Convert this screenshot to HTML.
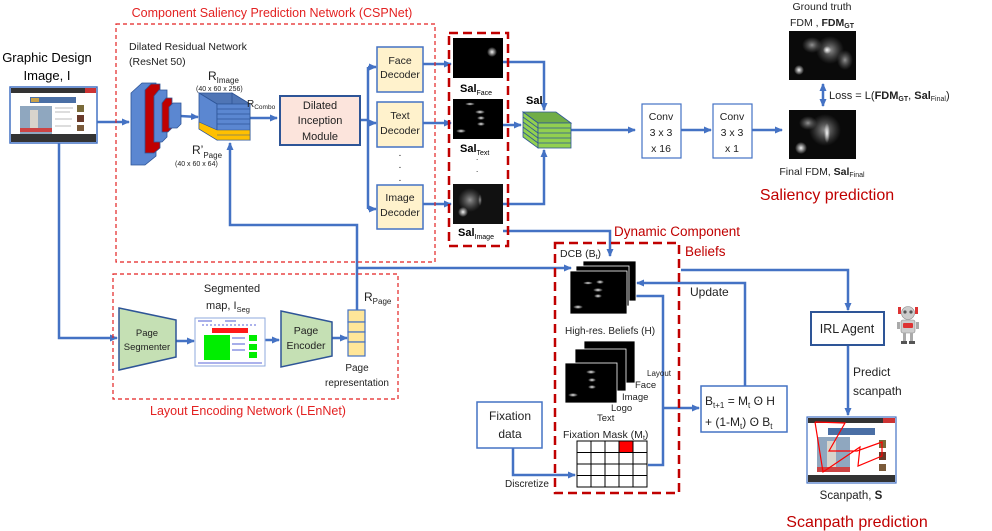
<!DOCTYPE html>
<html><head><meta charset="utf-8"><style>
html,body{margin:0;padding:0;background:#fff;}
svg{display:block;font-family:"Liberation Sans",sans-serif;}
</style></head><body>
<svg width="992" height="531" viewBox="0 0 992 531" xmlns="http://www.w3.org/2000/svg">
<defs>
<marker id="ar" markerWidth="8" markerHeight="8" refX="7" refY="4" orient="auto" markerUnits="userSpaceOnUse"><path d="M0,0.5 L8,4 L0,7.5 Z" fill="#4472c4"/></marker>
<marker id="ars" markerWidth="8" markerHeight="8" refX="1" refY="4" orient="auto" markerUnits="userSpaceOnUse"><path d="M8,0.5 L0,4 L8,7.5 Z" fill="#4472c4"/></marker>
<radialGradient id="blob"><stop offset="0" stop-color="#fff" stop-opacity="0.95"/><stop offset="1" stop-color="#fff" stop-opacity="0"/></radialGradient>
<radialGradient id="blob2"><stop offset="0" stop-color="#ccc" stop-opacity="0.7"/><stop offset="1" stop-color="#888" stop-opacity="0"/></radialGradient>
</defs>
<g fill="none" stroke="#4472c4" stroke-width="2.5">
<!-- connectors -->
<line x1="97" y1="122" x2="129" y2="122" marker-end="url(#ar)"/>
<line x1="180" y1="116" x2="198" y2="117" marker-end="url(#ar)"/>
<line x1="250" y1="118" x2="277" y2="118" marker-end="url(#ar)"/>
<polyline points="360,120 368,120"/>
<polyline points="368,67 368,209"/>
<line x1="368" y1="67" x2="376" y2="67" marker-end="url(#ar)"/>
<line x1="368" y1="123" x2="376" y2="123" marker-end="url(#ar)"/>
<line x1="368" y1="209" x2="376" y2="209" marker-end="url(#ar)"/>
<line x1="423" y1="64" x2="451" y2="64" marker-end="url(#ar)"/>
<line x1="423" y1="123" x2="451" y2="123" marker-end="url(#ar)"/>
<line x1="423" y1="204" x2="451" y2="204" marker-end="url(#ar)"/>
<polyline points="503,62 544,62 544,110" marker-end="url(#ar)"/>
<line x1="503" y1="125" x2="521" y2="125" marker-end="url(#ar)"/>
<polyline points="503,204 544,204 544,150" marker-end="url(#ar)"/>
<line x1="571" y1="130" x2="635" y2="130" marker-end="url(#ar)"/>
<line x1="681" y1="130" x2="711" y2="130" marker-end="url(#ar)"/>
<line x1="752" y1="130" x2="782" y2="130" marker-end="url(#ar)"/>
<line x1="823" y1="84" x2="823" y2="106" marker-end="url(#ar)" marker-start="url(#ars)"/>
<polyline points="230,143 230,225 357,225 357,310" marker-start="url(#ars)"/>
<polyline points="357,268 571,268" marker-end="url(#ar)"/>
<polyline points="503,231 610,231 610,256" marker-end="url(#ar)"/>
<polyline points="59,143 59,338 117,338" marker-end="url(#ar)"/>
<line x1="176" y1="341" x2="194" y2="341" marker-end="url(#ar)"/>
<line x1="265" y1="340" x2="279" y2="340" marker-end="url(#ar)"/>
<line x1="332" y1="338" x2="347" y2="338" marker-end="url(#ar)"/>
<polyline points="745,386 745,283 637,283" marker-end="url(#ar)"/>
<polyline points="636,296 663,296 663,465 648,465"/>
<line x1="663" y1="408" x2="699" y2="408" marker-end="url(#ar)"/>
<polyline points="681,270 848,270 848,310" marker-end="url(#ar)"/>
<line x1="848" y1="345" x2="848" y2="415" marker-end="url(#ar)"/>
<polyline points="513,448 513,475 575,475" marker-end="url(#ar)"/>
</g>
<!-- dashed boxes -->
<rect x="116" y="24" width="319" height="238" fill="none" stroke="#e32222" stroke-width="1.2" stroke-dasharray="4,3"/>
<rect x="113" y="274" width="285" height="125" fill="none" stroke="#e32222" stroke-width="1.2" stroke-dasharray="4,3"/>
<rect x="449" y="33" width="59" height="213" fill="none" stroke="#c00000" stroke-width="2.5" stroke-dasharray="9,5"/>
<rect x="555" y="243" width="124" height="250" fill="none" stroke="#c00000" stroke-width="2.5" stroke-dasharray="9,5"/>
<!-- titles -->
<g font-size="12.5" fill="#e32222" text-anchor="middle">
<text x="272" y="17">Component Saliency Prediction Network (CSPNet)</text>
<text x="248" y="415">Layout Encoding Network (LEnNet)</text>
</g>
<g font-size="13.5" fill="#c00000">
<text x="614" y="236">Dynamic Component</text>
<text x="685" y="256">Beliefs</text>
<text x="827" y="200" text-anchor="middle" font-size="16">Saliency prediction</text>
<text x="857" y="527" text-anchor="middle" font-size="16">Scanpath prediction</text>
</g>
<!-- input thumbnail -->
<g>
<rect x="10" y="87" width="87" height="56" fill="#fff" stroke="#4472c4" stroke-width="1.5"/>
<rect x="11" y="88" width="85" height="5" fill="#333"/>
<rect x="85" y="88" width="11" height="5" fill="#c33"/>
<rect x="30" y="97" width="46" height="6" fill="#4a6fa5"/>
<rect x="31" y="98" width="8" height="4" fill="#c9a24a"/>
<rect x="20" y="106" width="32" height="28" fill="#8fa7bf"/>
<rect x="30" y="110" width="8" height="22" fill="#d8d4cc"/>
<rect x="20" y="128" width="32" height="4" fill="#c44"/>
<rect x="77" y="105" width="7" height="7" fill="#7a6b3a"/>
<rect x="77" y="115" width="7" height="7" fill="#6a3a2a"/>
<rect x="77" y="125" width="7" height="6" fill="#7a5a3a"/>
<g stroke="#bbb" stroke-width="1"><line x1="55" y1="108" x2="73" y2="108"/><line x1="55" y1="112" x2="70" y2="112"/><line x1="55" y1="119" x2="72" y2="119"/><line x1="55" y1="126" x2="71" y2="126"/></g>
<rect x="11" y="134" width="85" height="8" fill="#333"/>
</g>
<g font-size="13" fill="#000" text-anchor="middle">
<text x="47" y="62">Graphic Design</text>
<text x="47" y="80">Image, I</text>
</g>
<!-- ResNet -->
<g stroke="#2e5597" stroke-width="0.8">
<polygon points="131,93 142,83 156,83 156,156 145,165 131,165" fill="#5b87d1"/>
<polygon points="145,90 151,84 160,84 160,148 154,153 145,153" fill="#c00000"/>
<polygon points="154,96 159,90 167,90 167,137 162,142 154,142" fill="#5b87d1"/>
<polygon points="162,103 166,98 172,98 172,128 168,132 162,132" fill="#c00000"/>
<polygon points="169,107 173,103 181,103 181,124 177,128 169,128" fill="#5b87d1"/>
</g>
<g font-size="10.5" fill="#222"><text x="129" y="50">Dilated Residual Network</text><text x="129" y="65">(ResNet 50)</text></g>
<!-- feature cube -->
<g stroke="#2e5597" stroke-width="0.8">
<polygon points="199,93 232,93 250,104 217,104" fill="#4f75b5"/>
<polygon points="232,93 250,104 250,140 232,129" fill="#4f75b5"/>
<rect x="199" y="93" width="51" height="0" />
<polygon points="199,93 217,104 217,140 199,129" fill="#5b87d1"/>
<rect x="217" y="104" width="33" height="36" fill="#5b87d1"/>
</g>
<g stroke="#2e5597" stroke-width="0.8" fill="none">
<line x1="217" y1="109" x2="250" y2="109"/><line x1="217" y1="114" x2="250" y2="114"/><line x1="217" y1="119" x2="250" y2="119"/><line x1="217" y1="124" x2="250" y2="124"/>
</g>
<polygon points="199,122 217,130 250,130 250,140 217,140 199,129" fill="#ffc000" stroke="#2e5597" stroke-width="0.6"/>
<line x1="217" y1="135" x2="250" y2="135" stroke="#2e5597" stroke-width="0.6"/>
<g fill="#222">
<text x="208" y="80" font-size="12">R<tspan font-size="8" dy="3">Image</tspan></text>
<text x="196" y="91" font-size="7">(40 x 60 x 256)</text>
<text x="247" y="107" font-size="10">R<tspan font-size="6.5" dy="2">Combo</tspan></text>
<text x="192" y="154" font-size="12">R’<tspan font-size="8" dy="4">Page</tspan></text>
<text x="175" y="166" font-size="7">(40 x 60 x 64)</text>
</g>
<!-- Inception -->
<rect x="280" y="96" width="80" height="49" fill="#fce4dc" stroke="#2e5597" stroke-width="2"/>
<g font-size="11" text-anchor="middle" fill="#222"><text x="320" y="109">Dilated</text><text x="320" y="124">Inception</text><text x="320" y="140">Module</text></g>
<!-- decoders -->
<g fill="#fff2cc" stroke="#4472c4" stroke-width="1.5">
<rect x="377" y="47" width="46" height="45"/><rect x="377" y="102" width="46" height="45"/><rect x="377" y="185" width="46" height="44"/>
</g>
<g font-size="10.5" text-anchor="middle" fill="#222">
<text x="400" y="64">Face</text><text x="400" y="78">Decoder</text>
<text x="400" y="119">Text</text><text x="400" y="134">Decoder</text>
<text x="400" y="201">Image</text><text x="400" y="216">Decoder</text>
<text x="400" y="156">.</text><text x="400" y="168">.</text><text x="400" y="181">.</text>
</g>
<!-- sal images -->
<rect x="453" y="38" width="50" height="40" fill="#000"/>
<circle cx="492" cy="52" r="5" fill="url(#blob)"/>
<rect x="453" y="99" width="50" height="40" fill="#000"/>
<g fill="url(#blob)"><ellipse cx="480" cy="112" rx="5" ry="2"/><ellipse cx="481" cy="118" rx="4" ry="2"/><ellipse cx="481" cy="124" rx="4" ry="2"/><ellipse cx="461" cy="131" rx="5" ry="2"/><ellipse cx="470" cy="104" rx="5" ry="1.5"/></g>
<rect x="453" y="184" width="50" height="40" fill="#111"/>
<g><ellipse cx="470" cy="200" rx="12" ry="12" fill="url(#blob2)"/><circle cx="463" cy="212" r="5" fill="url(#blob)"/><ellipse cx="480" cy="200" rx="2" ry="6" fill="url(#blob2)"/></g>
<g fill="#000" font-size="11">
<text x="460" y="92" font-weight="bold">Sal<tspan font-size="7" font-weight="normal" dy="3">Face</tspan></text>
<text x="460" y="152" font-weight="bold">Sal<tspan font-size="7" font-weight="normal" dy="3">Text</tspan></text>
<text x="476" y="160" font-size="8">.</text><text x="476" y="172" font-size="8">.</text>
<text x="458" y="236" font-weight="bold">Sal<tspan font-size="7" font-weight="normal" dy="3">Image</tspan></text>
<text x="526" y="104" font-weight="bold">Sal</text>
</g>
<!-- green cube -->
<g stroke="#2e5597" stroke-width="0.8">
<polygon points="523,112 556,112 571,123 538,123" fill="#70ad47"/>
<polygon points="523,112 538,123 538,148 523,137" fill="#92d050"/>
<rect x="538" y="123" width="33" height="25" fill="#92d050"/>
<line x1="538" y1="128" x2="571" y2="128"/><line x1="538" y1="133" x2="571" y2="133"/><line x1="538" y1="138" x2="571" y2="138"/><line x1="538" y1="143" x2="571" y2="143"/>
<line x1="523" y1="117" x2="538" y2="128"/><line x1="523" y1="122" x2="538" y2="133"/><line x1="523" y1="127" x2="538" y2="138"/><line x1="523" y1="132" x2="538" y2="143"/>
</g>
<!-- convs -->
<g fill="#fff" stroke="#4472c4" stroke-width="1.2"><rect x="642" y="104" width="39" height="54"/><rect x="713" y="104" width="39" height="54"/></g>
<g font-size="10.5" text-anchor="middle" fill="#222">
<text x="661" y="120">Conv</text><text x="661" y="136">3 x 3</text><text x="661" y="152">x 16</text>
<text x="732" y="120">Conv</text><text x="732" y="136">3 x 3</text><text x="732" y="152">x 1</text>
</g>
<!-- FDMs -->
<rect x="789" y="31" width="67" height="49" fill="#0a0a0a"/>
<g fill="url(#blob2)"><ellipse cx="830" cy="50" rx="14" ry="14"/><ellipse cx="812" cy="45" rx="10" ry="8"/><ellipse cx="845" cy="60" rx="8" ry="10"/></g>
<circle cx="799" cy="70" r="5" fill="url(#blob)"/><circle cx="827" cy="50" r="4" fill="url(#blob)"/>
<rect x="789" y="110" width="67" height="49" fill="#0a0a0a"/>
<g fill="url(#blob2)"><ellipse cx="825" cy="130" rx="16" ry="16"/><ellipse cx="808" cy="123" rx="9" ry="7"/></g>
<circle cx="801" cy="148" r="6" fill="url(#blob)"/><ellipse cx="827" cy="133" rx="3" ry="10" fill="url(#blob)"/>
<g font-size="10.5" fill="#222" text-anchor="middle">
<text x="822" y="10">Ground truth</text>
<text x="822" y="26">FDM , <tspan font-weight="bold">FDM<tspan font-size="7" dy="2">GT</tspan></tspan></text>
<text x="822" y="175">Final FDM, <tspan font-weight="bold">Sal</tspan><tspan font-size="7" dy="2">Final</tspan></text>
</g>
<text x="829" y="99" font-size="11" fill="#222">Loss  =  L(<tspan font-weight="bold">FDM</tspan><tspan font-size="7" font-weight="bold" dy="2">GT</tspan><tspan dy="-2">, </tspan><tspan font-weight="bold">Sal</tspan><tspan font-size="7" dy="2">Final</tspan><tspan dy="-2">)</tspan></text>
<!-- LEnNet -->
<polygon points="119,308 176,320 176,357 119,370" fill="#c5e0b4" stroke="#2e5597" stroke-width="1.5"/>
<polygon points="281,311 332,322 332,356 281,367" fill="#c5e0b4" stroke="#2e5597" stroke-width="1.5"/>
<g font-size="9.5" text-anchor="middle" fill="#222">
<text x="147" y="336">Page</text><text x="147" y="350">Segmenter</text>
<text x="306" y="334" font-size="10.5">Page</text><text x="306" y="349" font-size="10.5">Encoder</text>
</g>
<rect x="195" y="318" width="70" height="48" fill="#fff" stroke="#8faadc" stroke-width="1"/>
<rect x="212" y="328" width="36" height="5" fill="#ff1a1a"/>
<rect x="204" y="335" width="26" height="25" fill="#00ee00"/>
<rect x="249" y="335" width="8" height="6" fill="#00ee00"/><rect x="249" y="344" width="8" height="6" fill="#00ee00"/><rect x="249" y="352" width="8" height="6" fill="#00ee00"/>
<g stroke="#2233cc" stroke-width="0.8"><line x1="198" y1="321" x2="212" y2="321"/><line x1="225" y1="321" x2="236" y2="321"/><line x1="202" y1="325" x2="258" y2="325" stroke-dasharray="2,2"/><line x1="232" y1="338" x2="245" y2="338"/><line x1="232" y1="344" x2="245" y2="344"/><line x1="232" y1="350" x2="245" y2="350"/><line x1="198" y1="363" x2="262" y2="363"/></g>
<g font-size="11" text-anchor="middle" fill="#222"><text x="232" y="292">Segmented</text><text x="228" y="309">map, I<tspan font-size="7.5" dy="3">Seg</tspan></text></g>
<g fill="#ffe699" stroke="#4472c4" stroke-width="1.2"><rect x="348" y="310" width="17" height="12"/><rect x="348" y="322" width="17" height="10"/><rect x="348" y="332" width="17" height="10"/><rect x="348" y="342" width="17" height="14"/></g>
<text x="364" y="301" font-size="12" fill="#222">R<tspan font-size="8" dy="3">Page</tspan></text>
<g font-size="10" text-anchor="middle" fill="#222"><text x="357" y="371">Page</text><text x="357" y="386">representation</text></g>
<!-- DCB -->
<text x="560" y="257" font-size="10.5" fill="#222">DCB (B<tspan font-size="7" dy="2">t</tspan><tspan dy="-2">)</tspan></text>
<rect x="583" y="261" width="53" height="40" fill="#000" stroke="#fff" stroke-width="0.8"/>
<rect x="576" y="266" width="53" height="40" fill="#000" stroke="#fff" stroke-width="0.8"/>
<rect x="570" y="271" width="57" height="43" fill="#000" stroke="#fff" stroke-width="0.8"/>
<g fill="url(#blob)"><ellipse cx="598" cy="290" rx="5" ry="2"/><ellipse cx="598" cy="296" rx="4" ry="2"/><ellipse cx="600" cy="282" rx="4" ry="2"/><ellipse cx="578" cy="307" rx="5" ry="2"/><ellipse cx="588" cy="283" rx="5" ry="1.5"/></g>
<text x="565" y="334" font-size="10" fill="#222">High-res. Beliefs (H)</text>
<rect x="584" y="341" width="51" height="42" fill="#000" stroke="#fff" stroke-width="0.8"/>
<rect x="575" y="349" width="51" height="42" fill="#000" stroke="#fff" stroke-width="0.8"/>
<rect x="565" y="363" width="52" height="40" fill="#000" stroke="#fff" stroke-width="0.8"/>
<g fill="url(#blob)"><ellipse cx="591" cy="372" rx="5" ry="2"/><ellipse cx="592" cy="380" rx="4" ry="2"/><ellipse cx="592" cy="387" rx="4" ry="2"/><ellipse cx="573" cy="395" rx="5" ry="2"/></g>
<g fill="#222"><text x="647" y="376" font-size="8">Layout</text><text x="635" y="388" font-size="9.5">Face</text><text x="622" y="400" font-size="9.5">Image</text><text x="611" y="411" font-size="9.5">Logo</text><text x="597" y="421" font-size="9.5">Text</text></g>
<text x="563" y="438" font-size="10.5" fill="#222">Fixation Mask (M<tspan font-size="7" dy="2">t</tspan><tspan dy="-2">)</tspan></text>
<g stroke="#000" stroke-width="1" fill="#fff">
<rect x="577" y="441" width="70" height="46"/>
<rect x="619" y="441" width="14" height="11.5" fill="#ff0000"/>
<line x1="591" y1="441" x2="591" y2="487"/><line x1="605" y1="441" x2="605" y2="487"/><line x1="619" y1="441" x2="619" y2="487"/><line x1="633" y1="441" x2="633" y2="487"/>
<line x1="577" y1="452.5" x2="647" y2="452.5"/><line x1="577" y1="464" x2="647" y2="464"/><line x1="577" y1="475.5" x2="647" y2="475.5"/>
</g>
<text x="690" y="296" font-size="12" fill="#222">Update</text>
<rect x="701" y="386" width="86" height="46" fill="#fff" stroke="#4472c4" stroke-width="1.5"/>
<g font-size="12" fill="#222">
<text x="705" y="405">B<tspan font-size="8" dy="3">t+1</tspan><tspan dy="-3"> = M</tspan><tspan font-size="8" dy="3">t</tspan><tspan dy="-3"> ʘ H</tspan></text>
<text x="705" y="426">+ (1-M<tspan font-size="8" dy="3">t</tspan><tspan dy="-3">) ʘ B</tspan><tspan font-size="8" dy="3">t</tspan></text>
</g>
<!-- fixation data -->
<rect x="477" y="402" width="65" height="46" fill="#fff" stroke="#4472c4" stroke-width="1.5"/>
<g font-size="12" text-anchor="middle" fill="#222"><text x="510" y="420">Fixation</text><text x="510" y="438">data</text></g>
<text x="505" y="487" font-size="10" fill="#222">Discretize</text>
<!-- IRL -->
<rect x="811" y="312" width="73" height="33" fill="#fff" stroke="#2e5597" stroke-width="2"/>
<text x="847" y="333" font-size="12.5" text-anchor="middle" fill="#222">IRL Agent</text>
<g>
<circle cx="908" cy="313" r="6.5" fill="#ccc" stroke="#888" stroke-width="0.6"/>
<circle cx="905" cy="312" r="1.6" fill="#555"/><circle cx="911" cy="312" r="1.6" fill="#555"/>
<rect x="898" y="307" width="3" height="7" fill="#d33"/><rect x="915" y="307" width="3" height="7" fill="#d33"/>
<rect x="901" y="320" width="14" height="13" rx="2" fill="#ccc" stroke="#888" stroke-width="0.6"/>
<rect x="903" y="323" width="10" height="5" rx="1" fill="#d33"/>
<rect x="897" y="322" width="3" height="7" fill="#aaa"/><rect x="916" y="322" width="3" height="7" fill="#aaa"/>
<rect x="903" y="333" width="3" height="8" fill="#aaa"/><rect x="910" y="333" width="3" height="8" fill="#aaa"/>
<rect x="901" y="341" width="6" height="3" fill="#555"/><rect x="909" y="341" width="6" height="3" fill="#555"/>
</g>
<g font-size="12" fill="#222"><text x="853" y="376">Predict</text><text x="853" y="395">scanpath</text></g>
<!-- scanpath image -->
<rect x="807" y="417" width="89" height="66" fill="#fff" stroke="#4472c4" stroke-width="1.2"/>
<rect x="808" y="418" width="87" height="5" fill="#333"/><rect x="883" y="418" width="12" height="5" fill="#c33"/>
<rect x="828" y="428" width="47" height="7" fill="#4a6fa5"/>
<rect x="817" y="437" width="33" height="34" fill="#8fa7bf"/><rect x="827" y="441" width="9" height="28" fill="#d8d4cc"/>
<rect x="817" y="467" width="33" height="5" fill="#c44"/>
<rect x="879" y="440" width="7" height="8" fill="#7a6b3a"/><rect x="879" y="452" width="7" height="8" fill="#6a3a2a"/><rect x="879" y="464" width="7" height="7" fill="#7a5a3a"/>
<rect x="808" y="475" width="87" height="7" fill="#333"/>
<polyline points="815,422 845,423 829,451 857,451 882,442 882,456 858,466 860,447 823,472 815,422" fill="none" stroke="#ff0000" stroke-width="1.2"/>
<text x="851" y="499" font-size="11.5" text-anchor="middle" fill="#222">Scanpath, <tspan font-weight="bold">S</tspan></text>
</svg>
</body></html>
